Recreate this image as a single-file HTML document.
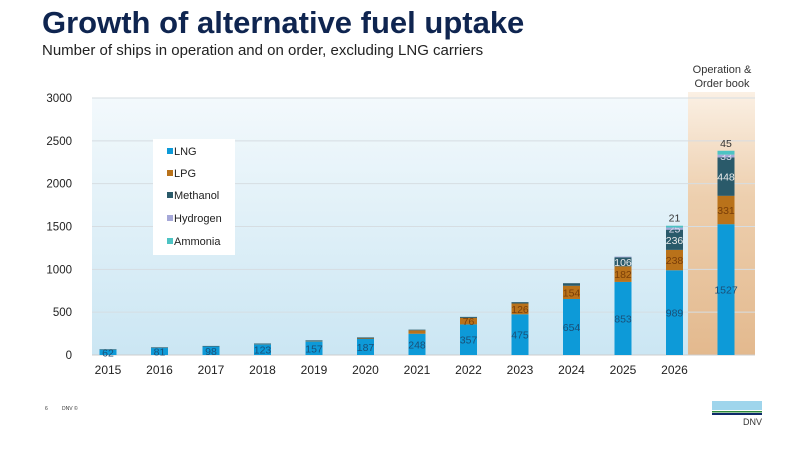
<!DOCTYPE html>
<html><head><meta charset="utf-8"><style>
body{margin:0;background:#fff;width:802px;height:455px;overflow:hidden;font-family:"Liberation Sans",Arial,sans-serif}
</style></head><body>
<svg id="s" width="802" height="455" xmlns="http://www.w3.org/2000/svg" font-family="Liberation Sans, Arial, sans-serif">
<defs>
<linearGradient id="bg" x1="0" y1="0" x2="0" y2="1"><stop offset="0" stop-color="#f3f9fc"/><stop offset="1" stop-color="#cbe6f3"/></linearGradient>
<linearGradient id="tan" x1="0" y1="0" x2="0" y2="1"><stop offset="0" stop-color="#fbf0e4"/><stop offset="0.4" stop-color="#edcfae"/><stop offset="1" stop-color="#e3b98e"/></linearGradient>
</defs>
<text x="42" y="33" font-size="31" font-weight="bold" fill="#0f2550">Growth of alternative fuel uptake</text>
<text x="42" y="55" font-size="15" fill="#222">Number of ships in operation and on order, excluding LNG carriers</text>
<text x="722" y="73" font-size="11" fill="#333" text-anchor="middle">Operation &amp;</text>
<text x="722" y="87" font-size="11" fill="#333" text-anchor="middle">Order book</text>
<rect x="92" y="98" width="596" height="257" fill="url(#bg)"/>
<rect x="688" y="92" width="67" height="263" fill="url(#tan)"/>
<g id="g"></g>
<rect x="153" y="139" width="82" height="116" fill="#fff"/>
<g font-size="11" fill="#222">
<rect x="167" y="148" width="6" height="6" fill="#0d9ad8"/><text x="174" y="155">LNG</text>
<rect x="167" y="170" width="6" height="6" fill="#b9721a"/><text x="174" y="177">LPG</text>
<rect x="167" y="192" width="6" height="6" fill="#2a5a6a"/><text x="174" y="199">Methanol</text>
<rect x="167" y="215" width="6" height="6" fill="#a6a8d8"/><text x="174" y="222">Hydrogen</text>
<rect x="167" y="238" width="6" height="6" fill="#4dc3c3"/><text x="174" y="245">Ammonia</text>
</g>
<text x="45" y="410" font-size="5" fill="#333">6</text><text x="62" y="410" font-size="5" fill="#333">DNV ©</text>
<rect x="712" y="401" width="50" height="9" fill="#9fd5ec"/>
<rect x="712" y="411" width="50" height="1.5" fill="#2e8b3a"/>
<rect x="712" y="413" width="50" height="2" fill="#0f2a6a"/>
<text x="762" y="425" font-size="9" fill="#333" text-anchor="end">DNV</text>
</svg>
<script>
var g=document.getElementById('g'),ns="http://www.w3.org/2000/svg",k=257/3000,y0=355;
function el(t,a,txt){var e=document.createElementNS(ns,t);for(var i in a)e.setAttribute(i,a[i]);if(txt!=null)e.textContent=txt;g.appendChild(e);return e;}
for(var v=0;v<=3000;v+=500){var y=y0-v*k;el('line',{x1:92,x2:755,y1:y,y2:y,stroke:v?'#d6dde2':'#ccc','stroke-width':1});el('text',{x:72,y:y+4,'font-size':11.5,fill:'#222','text-anchor':'end'},v);}
var cols=['#0d9ad8','#b9721a','#2a5a6a','#a6a8d8','#4dc3c3'];
var d=[[2015,62,0,6],[2016,81,0,8],[2017,98,0,8],[2018,123,3,8],[2019,157,4,10],[2020,187,6,12],[2021,248,40,8,0,0],[2022,357,76,12],[2023,475,126,16],[2024,654,154,30],[2025,853,182,106,8],[2026,989,238,236,25,21],['',1527,331,448,33,45]];
var lab=[[1,0,0,0,0],[1,0,0,0,0],[1,0,0,0,0],[1,0,0,0,0],[1,0,0,0,0],[1,0,0,0,0],[1,0,0,0,0],[1,1,0,0,0],[1,1,0,0,0],[1,1,0,0,0],[1,1,1,0,0],[1,1,1,1,2],[1,1,1,1,2]];
var lc=['#1a4f77','#7a3e08','#eaeaea','#dde','#333'];
d.forEach(function(r,i){var cx=108+i*51.5;if(i==12)cx=726;var w=17,y=y0;
 for(var j=1;j<r.length;j++){var h=r[j]*k;if(!h)continue;el('rect',{x:cx-w/2,y:y-h,width:w,height:h,fill:cols[j-1]});
  var L=lab[i][j-1];
  if(L==1){el('text',{x:cx,y:y-h/2+4,'font-size':10.5,fill:lc[j-1],'text-anchor':'middle'},r[j]);}
  if(L==2){el('text',{x:cx,y:y-h-4,'font-size':10.5,fill:'#333','text-anchor':'middle'},r[j]);}
  y-=h;}
 if(r[0]!=='')el('text',{x:cx,y:374,'font-size':12,fill:'#222','text-anchor':'middle'},r[0]);
});
</script>
</body></html>
